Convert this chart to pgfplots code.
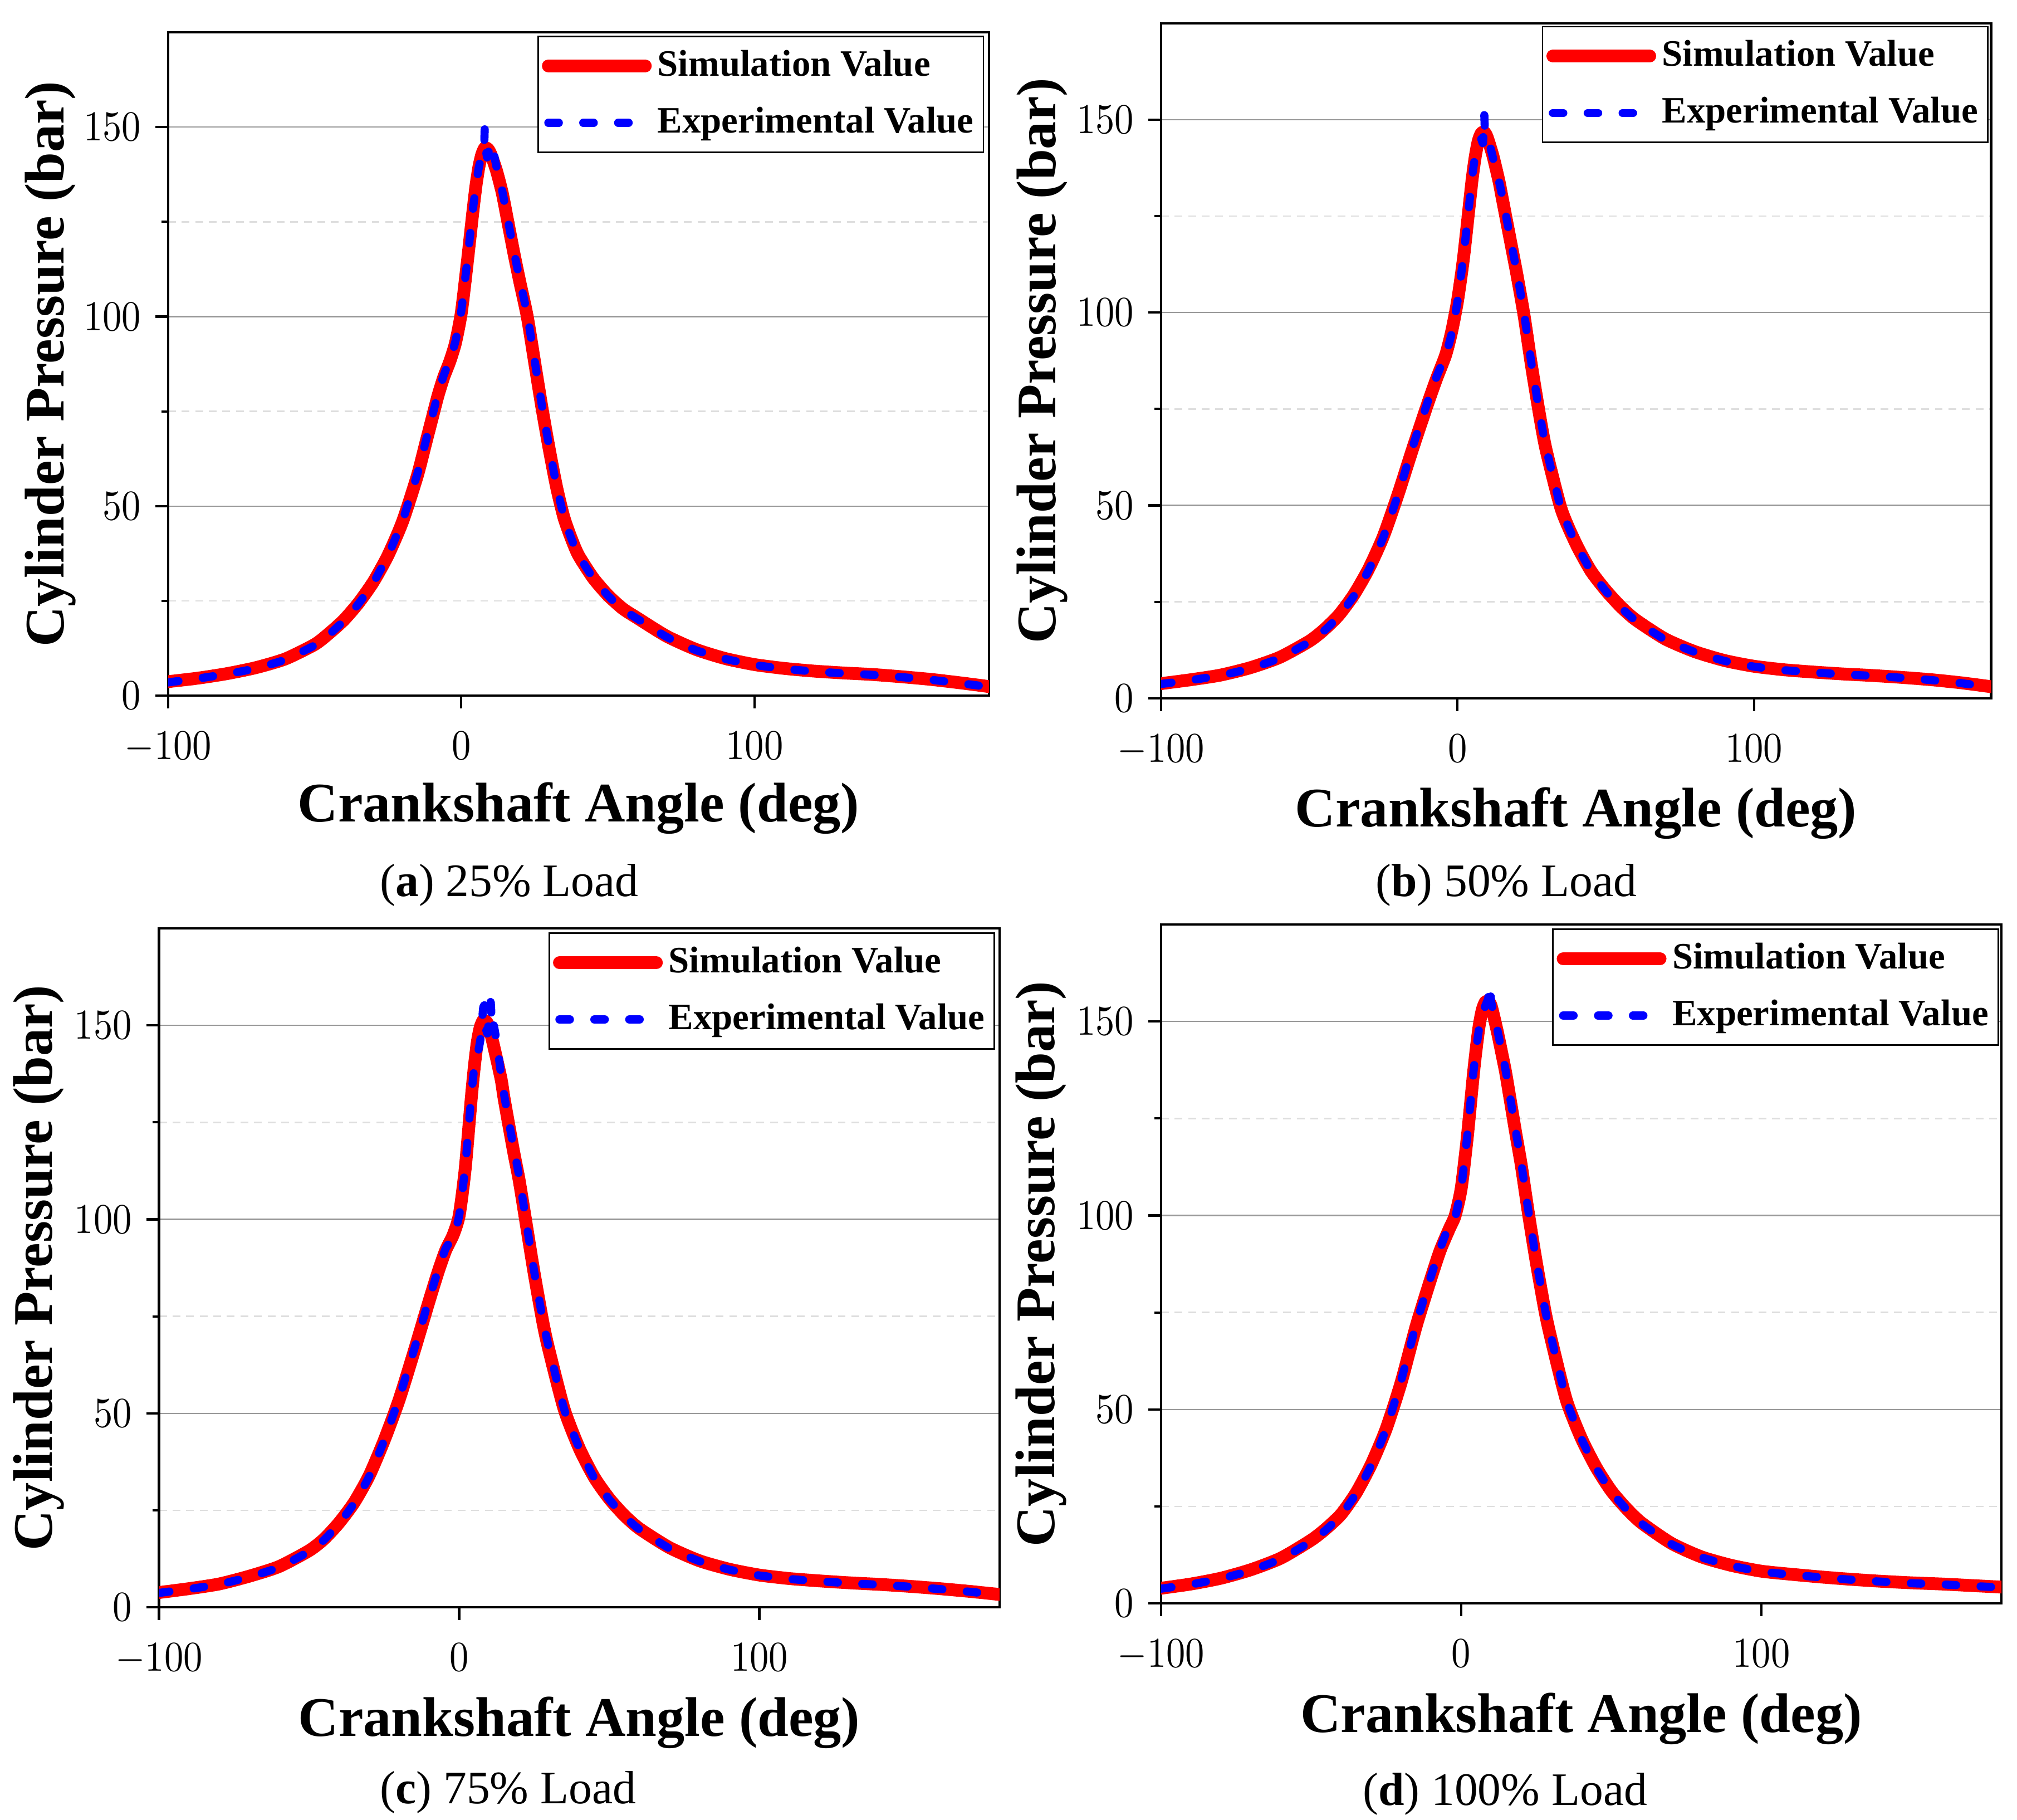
\documentclass[border=0pt]{standalone}
\usepackage{fontspec}
\setmainfont{Liberation Serif}
\usepackage{graphicx}
\usepackage{pgfplots}
\pgfplotsset{compat=1.18}

\pgfplotsset{
  panel/.style={
    scale only axis,
    anchor=south west,
    xmin=-100, xmax=180, ymin=0, ymax=175,
    xtick={-100,0,100}, ytick={0,50,100,150},
    minor ytick={25,75,125},
    ymajorgrids, yminorgrids,
    major grid style={draw=black!40, line width=0.35pt},
    minor grid style={draw=black!13, line width=0.35pt, dash pattern=on 2pt off 1.5pt},
    tick align=outside, xtick pos=bottom, ytick pos=left,
    major tick length=3.3pt, minor tick length=1.7pt,
    every tick/.style={black, line width=0.6pt},
    axis line style={line width=0.6pt},
    tick label style={font=\fontsize{10.7}{10.7}\selectfont, inner sep=0.5pt},
    xticklabel style={yshift=-5.4pt},
    yticklabel style={xshift=-3pt},
    xticklabel={\scalebox{0.9}[1]{$\pgfmathprintnumber{\tick}$}},
    yticklabel={\scalebox{0.9}[1]{$\pgfmathprintnumber{\tick}$}},
    xlabel={Crankshaft Angle (deg)},
    ylabel={Cylinder Pressure (bar)},
    label style={font=\fontsize{14.4}{16}\selectfont\bfseries},
    xlabel style={at={(axis description cs:0.5,-0.19)}, anchor=base},
    ylabel style={at={(axis description cs:-0.127,0.5)}, anchor=base},
    legend style={at={(0.994,0.995)}, anchor=north east, draw=black, line width=0.4pt,
      font=\fontsize{9.6}{11}\selectfont\bfseries, inner xsep=1pt, inner ysep=2pt,
      row sep=3.5pt, nodes={inner sep=1.5pt}, cells={anchor=west}},
    legend image code/.code={\draw[#1] (0pt,0pt) -- (25pt,0pt);},
  },
  sim/.style={red, line width=3.3pt, line cap=round, line join=round, smooth, tension=0.4},
  exp/.style={blue, line width=2.1pt, line cap=round, line join=round, dash pattern=on 2.7pt off 6.3pt, smooth, tension=0.3},
}

\begin{document}
\begin{tikzpicture}
\path[use as bounding box] (0,0) rectangle (520pt,-469.17pt);

% (a) 25% load
\begin{axis}[panel, at={(43.33pt,-179.33pt)}, width=211.67pt, height=171pt]
\addplot[sim] coordinates {(-100,3.7)(-90,4.6)(-80,5.8)(-70,7.4)(-60,9.7)(-50,13.5)(-45,16.5)(-40,20)(-35,24.5)(-30,30)(-25,37)(-20,46)(-15,58)(-12,67)(-10,73)(-8,79)(-6,84)(-4,88)(-2,93)(0,101)(2,114)(4,128)(5,134.5)(6,139.5)(7,142.8)(8,144.5)(9,144.3)(10,143)(12,138.5)(14,132.5)(16,124.5)(18,116.5)(20,109)(22.5,100)(25,88)(27.5,76)(30,65)(32.5,55)(35,47)(37.5,41.5)(40,37)(45,31)(50,26.5)(55,23)(60,20.5)(70,15.7)(80,12.2)(90,9.8)(100,8.2)(110,7.2)(120,6.5)(130,6)(140,5.6)(150,5)(160,4.3)(170,3.4)(180,2.4)};
\addlegendentry{Simulation Value}
\addplot[exp] coordinates {(-100,3.5)(-90,4.5)(-80,5.7)(-70,7.2)(-60,9.5)(-50,13.3)(-45,16.2)(-40,19.8)(-35,24.3)(-30,29.8)(-25,37)(-20,46.3)(-15,58.5)(-12,67.5)(-10,73.5)(-8,79.5)(-6,84.5)(-4,88.5)(-2,93.5)(0,101.5)(2,114.5)(4,128.5)(5,134.5)(6,139.5)(7,142.5)(7.8,145.5)(8,149.5)(8.3,145)(8.8,142)(9.5,144)(10.5,146)(11,143.5)(12,139.5)(14,133)(16,125)(18,117)(20,109.5)(22.5,100.5)(25,88.5)(27.5,76.5)(30,65.5)(32.5,55.3)(35,47.2)(37.5,41.5)(40,37)(45,31)(50,26.4)(55,22.8)(60,20.3)(70,15.5)(80,12)(90,9.7)(100,8.1)(110,7.1)(120,6.4)(130,5.9)(140,5.5)(150,4.9)(160,4.2)(170,3.3)(180,2.3)};
\addlegendentry{Experimental Value}
\end{axis}

% (b) 50% load
\begin{axis}[panel, at={(299.33pt,-180pt)}, width=214pt, height=174pt, legend style={at={(0.997,0.996)}}]
\addplot[sim] coordinates {(-100,3.8)(-90,4.8)(-80,6)(-70,7.9)(-60,10.6)(-50,14.8)(-45,17.8)(-40,21.6)(-35,26.8)(-30,33.5)(-25,42)(-20,53)(-15,65)(-10,76.5)(-7,83)(-4,89)(-2,95)(0,103)(2,114)(4,128)(5,135)(6,140.5)(7,144.5)(8,146.5)(9,146.8)(10,145.5)(12,140.5)(14,134)(15,130)(18,118)(20,110)(22.5,99)(25,86)(28,72)(30,64)(35,49)(40,40)(45,33)(50,28)(55,23.8)(60,20.4)(70,15.4)(80,12.1)(90,9.8)(100,8.3)(110,7.4)(120,6.8)(130,6.3)(140,5.9)(150,5.4)(160,4.8)(170,4)(180,3)};
\addlegendentry{Simulation Value}
\addplot[exp] coordinates {(-100,3.7)(-90,4.7)(-80,5.9)(-70,7.7)(-60,10.4)(-50,14.6)(-45,17.5)(-40,21.3)(-35,26.5)(-30,33.2)(-25,41.8)(-20,53)(-15,65.5)(-10,77)(-7,83.5)(-4,89)(-2,94.5)(0,103)(2,114.5)(4,128.5)(5,135.5)(6,141)(7,143.5)(8,145)(8.6,144)(9,151.5)(9.3,146)(10,144)(11,143)(12,140)(14,134)(15,130.5)(18,118.5)(20,110.5)(22.5,99.5)(25,86.5)(28,72.5)(30,64.5)(35,49)(40,40)(45,33)(50,27.8)(55,23.6)(60,20.2)(70,15.2)(80,12)(90,9.7)(100,8.2)(110,7.3)(120,6.7)(130,6.2)(140,5.8)(150,5.3)(160,4.7)(170,3.9)(180,2.9)};
\addlegendentry{Experimental Value}
\end{axis}

% (c) 75% load
\begin{axis}[panel, at={(41pt,-414.33pt)}, width=216.67pt, height=175pt, legend style={at={(0.995,0.994)}}]
\addplot[sim] coordinates {(-100,3.8)(-90,4.8)(-80,6)(-70,8)(-60,10.5)(-50,14.6)(-45,17.6)(-40,21.8)(-35,27)(-30,33.9)(-25,43)(-20,53.5)(-15,66)(-10,79)(-7,86.5)(-4.5,92)(-2,96)(0,101)(2,113)(4,131)(5,139)(6,145.5)(7,149.5)(8,151.3)(9,151)(10,149.5)(12,143)(14,136)(15,131)(18,118)(20,110)(22.5,98)(25,86)(28,73)(30,66)(35,51)(40,41)(45,33.5)(50,28)(55,23.7)(60,20.3)(70,15.4)(80,12)(90,9.8)(100,8.3)(110,7.4)(120,6.8)(130,6.3)(140,5.9)(150,5.4)(160,4.8)(170,4.1)(180,3.3)};
\addlegendentry{Simulation Value}
\addplot[exp] coordinates {(-100,3.7)(-90,4.7)(-80,5.9)(-70,7.8)(-60,10.3)(-50,14.4)(-45,17.4)(-40,21.6)(-35,26.8)(-30,33.7)(-25,43)(-20,54)(-15,66.5)(-10,79.5)(-7,87)(-4.5,92.5)(-2,95.5)(0,101)(2,113.5)(4,131.5)(5,139)(6,142)(7,146)(7.5,150)(8,154.5)(8.5,155)(9,149)(9.5,148)(10,153)(10.5,156)(11,148.5)(11.5,150)(12,148)(13,143)(14,137)(15,132)(18,119)(20,111)(22.5,98.5)(25,86.5)(28,73.5)(30,66.5)(35,51)(40,41)(45,33.3)(50,27.8)(55,23.5)(60,20.1)(70,15.2)(80,11.9)(90,9.7)(100,8.2)(110,7.3)(120,6.7)(130,6.2)(140,5.8)(150,5.3)(160,4.7)(170,4)(180,3.2)};
\addlegendentry{Experimental Value}
\end{axis}

% (d) 100% load
\begin{axis}[panel, at={(299.33pt,-413.33pt)}, width=216.67pt, height=175pt, legend style={at={(0.997,0.994)}}]
\addplot[sim] coordinates {(-100,3.9)(-90,5)(-80,6.5)(-70,8.7)(-60,11.7)(-50,16.3)(-45,19.3)(-40,23)(-35,28.5)(-30,35.8)(-25,45)(-20,57)(-15,71.5)(-10,84)(-7,91)(-4,96.5)(-2,100)(0,107)(2,120)(4,136)(5,143)(6,149)(7,153)(8,155)(9,155.2)(10,154)(12,147.5)(14,140)(15,136)(18,122)(20,113)(22.5,100)(25,88)(28,75)(30,68)(35,52.5)(40,42.6)(45,35)(50,29)(55,24.5)(60,20.8)(70,15.5)(80,12)(90,9.8)(100,8.3)(110,7.5)(120,6.8)(130,6.2)(140,5.7)(150,5.3)(160,5)(170,4.6)(180,4.2)};
\addlegendentry{Simulation Value}
\addplot[exp] coordinates {(-100,3.8)(-90,4.9)(-80,6.4)(-70,8.5)(-60,11.5)(-50,16)(-45,19)(-40,22.8)(-35,28.3)(-30,35.6)(-25,45)(-20,57.5)(-15,72)(-10,84.5)(-7,91.5)(-4,97.5)(-3,98)(-2,99.5)(0,107)(2,120.5)(4,136.5)(5,143)(6,148.5)(7,152)(8,154)(9,156)(9.5,159.5)(10,155)(11,152)(12,148)(14,140.5)(15,136.5)(18,122.5)(20,113.5)(22.5,100.5)(25,88.5)(28,75.5)(30,68.5)(35,52.5)(40,42.5)(45,34.8)(50,28.8)(55,24.3)(60,20.6)(70,15.3)(80,11.9)(90,9.7)(100,8.2)(110,7.4)(120,6.7)(130,6.1)(140,5.6)(150,5.2)(160,4.9)(170,4.5)(180,4.1)};
\addlegendentry{Experimental Value}
\end{axis}

\node[anchor=base, font=\fontsize{12}{14}\selectfont] at (131.3pt,-231pt) {(\textbf{a}) 25\% Load};
\node[anchor=base, font=\fontsize{12}{14}\selectfont] at (388.3pt,-231pt) {(\textbf{b}) 50\% Load};
\node[anchor=base, font=\fontsize{12}{14}\selectfont] at (131pt,-465pt) {(\textbf{c}) 75\% Load};
\node[anchor=base, font=\fontsize{12}{14}\selectfont] at (388pt,-465.3pt) {(\textbf{d}) 100\% Load};
\end{tikzpicture}
\end{document}
